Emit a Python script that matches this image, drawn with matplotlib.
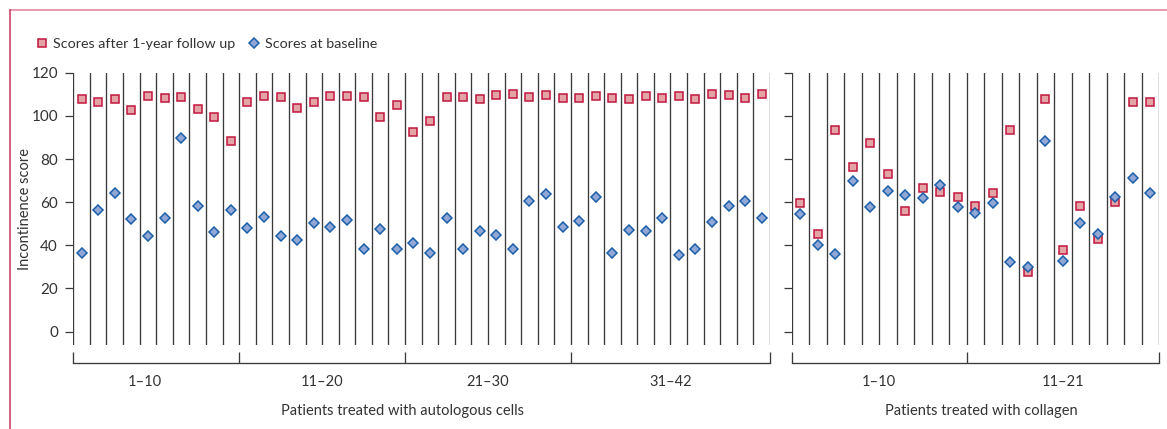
import matplotlib.pyplot as plt
from matplotlib.lines import Line2D
import numpy as np

plt.rcParams['font.family'] = ['Lato', 'DejaVu Sans']

# scores, autologous cells (42 patients)
auto_followup = [107.7, 106.4, 107.7, 102.7, 109.4, 108.4, 108.6, 103.3, 99.3, 88.5,
                 106.6, 109.4, 108.6, 103.5, 106.6, 109.4, 109.4, 108.6, 99.3, 105.0,
                 92.7, 97.8, 108.8, 108.8, 107.8, 109.7, 110.3, 108.8, 109.7, 108.4,
                 108.4, 109.4, 108.4, 107.8, 109.4, 108.4, 109.4, 107.8, 110.3, 109.7,
                 108.4, 110.0]
auto_baseline = [36.6, 56.4, 64.1, 52.2, 44.2, 52.8, 89.6, 58.4, 46.2, 56.4,
                 48.2, 53.3, 44.3, 42.5, 50.5, 48.4, 51.6, 38.2, 47.6, 38.5,
                 41.0, 36.3, 52.8, 38.3, 46.8, 44.7, 38.3, 60.7, 63.7, 48.7,
                 51.4, 62.6, 36.3, 47.1, 46.8, 52.5, 35.5, 38.3, 50.7, 58.2,
                 60.4, 52.5]
auto_groups = [0, 10, 20, 30, 42]
auto_group_labels = ['1–10', '11–20', '21–30', '31–42']

# scores, collagen (21 patients)
coll_followup = [59.5, 45.4, 93.6, 76.3, 87.4, 72.9, 56.1, 66.4, 64.9, 62.6,
                 58.2, 64.4, 93.5, 27.8, 107.8, 37.9, 58.4, 43.0, 60.2, 106.6,
                 106.6]
coll_baseline = [54.4, 40.0, 35.9, 70.0, 57.9, 65.2, 63.3, 62.1, 68.1, 57.9,
                 54.9, 59.8, 32.3, 30.0, 88.4, 32.9, 50.2, 45.3, 62.6, 71.1,
                 64.1]
coll_groups = [0, 10, 21]
coll_group_labels = ['1–10', '11–21']

yticks = [0, 20, 40, 60, 80, 100, 120]

sq_face, sq_edge = '#e4a4a6', '#c2163e'
di_face, di_edge = '#91a8d6', '#1c5ea8'
line_col = '#3a3a3a'
txt_col = '#333333'
fs = 10.5

fig = plt.figure(figsize=(11.67, 4.29), dpi=100)
W, H = 1167, 429
top_px, bot_px = 72.7, 345
ax1 = fig.add_axes([73.3 / W, 1 - bot_px / H, (770 - 73.3) / W, (bot_px - top_px) / H])
ax2 = fig.add_axes([791.7 / W, 1 - bot_px / H, (1159 - 791.7) / W, (bot_px - top_px) / H])


def panel(ax, followup, baseline, groups, group_labels, xlabel, show_labels, label_shift=0):
    n = len(followup)
    x = np.arange(n) + 0.5
    for b in range(n + 1):
        ax.axvline(b, color=line_col, lw=0.95, zorder=1)
    ax.plot(x, followup, ls='none', marker='s', ms=5.8, mfc=sq_face, mec=sq_edge, mew=1.1, zorder=3)
    ax.plot(x, baseline, ls='none', marker='D', ms=5.3, mfc=di_face, mec=di_edge, mew=1.1, zorder=3)
    ax.set_xlim(0, n)
    ax.set_ylim(-6.2, 120)
    ax.spines['top'].set_visible(False)
    ax.spines['right'].set_visible(False)
    ax.spines['left'].set_visible(False)
    # y ticks
    ax.set_yticks(yticks)
    ax.tick_params(axis='y', length=6, width=0.9, color=line_col, pad=5,
                   labelsize=11, labelcolor=txt_col, labelleft=show_labels)
    # bracket below the lines
    ax.spines['bottom'].set_position(('outward', 12.7))
    ax.spines['bottom'].set_bounds(0, n)
    ax.spines['bottom'].set_color(line_col)
    ax.spines['bottom'].set_linewidth(0.95)
    ax.set_xticks(groups)
    ax.set_xticklabels([])
    ax.tick_params(axis='x', which='major', direction='in', length=8, width=0.95, color=line_col)
    centers = [(groups[i] + groups[i + 1]) / 2 for i in range(len(groups) - 1)]
    centers[0] -= label_shift
    ax.set_xticks(centers, minor=True)
    ax.set_xticklabels(group_labels, minor=True)
    ax.tick_params(axis='x', which='minor', length=0, pad=9, labelsize=fs, labelcolor=txt_col)
    ax.set_xlabel(xlabel, fontsize=fs, color=txt_col)


panel(ax1, auto_followup, auto_baseline, auto_groups, auto_group_labels,
      'Patients treated with autologous cells', True, label_shift=0.7)
panel(ax2, coll_followup, coll_baseline, coll_groups, coll_group_labels,
      'Patients treated with collagen', False)
ax1.xaxis.set_label_coords(0.472, -0.215)
ax2.xaxis.set_label_coords(0.515, -0.215)
ax1.set_ylabel('Incontinence score', fontsize=fs, color=txt_col)
ax1.yaxis.set_label_coords(-0.0586, 0.5)

handles = [Line2D([], [], ls='none', marker='s', ms=5.8, mfc=sq_face, mec=sq_edge, mew=1.1),
           Line2D([], [], ls='none', marker='D', ms=5.3, mfc=di_face, mec=di_edge, mew=1.1)]
fig.legend(handles, ['Scores after 1-year follow up', 'Scores at baseline'],
           loc='center left', bbox_to_anchor=(33 / W, 1 - 44 / H), ncol=2, frameon=False,
           fontsize=10.3, handletextpad=0.2, columnspacing=0.7, handlelength=1.2,
           labelcolor=txt_col, borderaxespad=0, borderpad=0)

# frame lines top and left
fig.add_artist(Line2D([9.5 / W, 1], [1 - 10 / H, 1 - 10 / H], transform=fig.transFigure,
                      color='#e08099', lw=1.1))
fig.add_artist(Line2D([9.5 / W, 9.5 / W], [0, 1 - 10 / H], transform=fig.transFigure,
                      color='#c8365c', lw=1.1))

plt.savefig('out.png', dpi=100)
plt.close()
